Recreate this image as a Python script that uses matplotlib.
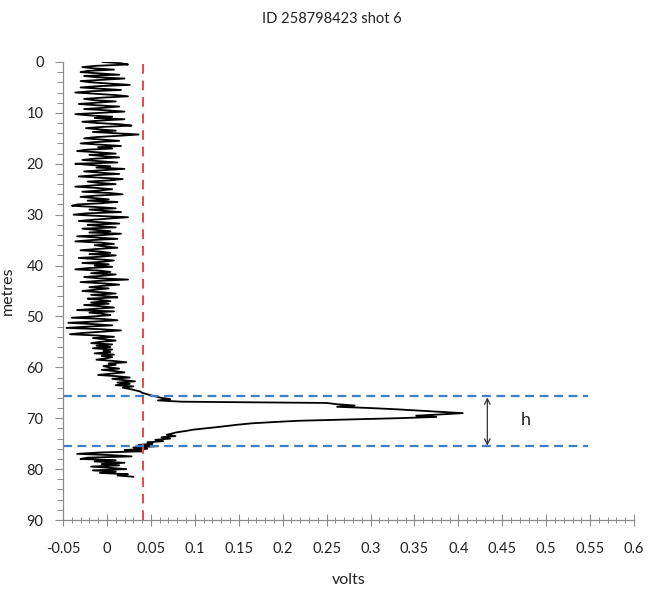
import numpy as np
import matplotlib
matplotlib.use('Agg')
import matplotlib.pyplot as plt
from matplotlib.ticker import MultipleLocator, FuncFormatter

plt.rcParams['font.family'] = ['Lato', 'DejaVu Sans']

# trace samples, volts, one every 0.25 m from the surface down
step = 0.25
volts = [
    # 0 - 5 m
    -0.005, 0.016, 0.024, -0.012, -0.028, -0.015, 0.008, -0.022, -0.030, -0.008,
    0.014, -0.026, -0.012, 0.020, -0.005, -0.030, -0.018, 0.004, 0.026, -0.010,
    # 5 - 10 m
    -0.030, -0.008, 0.016, -0.018, -0.036, -0.012, 0.010, 0.024, -0.005, -0.026,
    -0.015, 0.010, -0.012, -0.032, -0.012, 0.014, -0.004, -0.026, 0.000, 0.020,
    # 10 - 15 m
    -0.008, -0.036, -0.020, 0.006, -0.014, 0.020, -0.006, -0.028, -0.010, 0.016,
    0.028, -0.004, -0.024, -0.008, 0.010, -0.016, 0.010, 0.036, 0.014, -0.012,
    # 15 - 20 m
    -0.026, -0.005, 0.014, -0.014, -0.030, -0.006, 0.016, -0.010, 0.006, -0.024,
    -0.034, -0.010, 0.010, -0.020, -0.004, 0.014, -0.014, -0.028, -0.008, 0.012,
    # 20 - 25 m
    -0.036, -0.018, 0.004, -0.012, 0.020, -0.004, -0.026, -0.008, 0.014, -0.014,
    -0.032, -0.006, 0.018, 0.004, -0.022, -0.010, 0.010, -0.016, -0.036, -0.012,
    # 25 - 30 m
    0.006, -0.008, -0.028, 0.004, 0.018, -0.012, -0.030, -0.014, 0.002, -0.022,
    0.012, -0.006, -0.034, -0.040, -0.012, 0.010, -0.020, -0.004, 0.016, -0.024,
    # 30 - 35 m
    -0.038, -0.010, 0.024, 0.004, -0.016, -0.032, -0.006, 0.014, -0.022, -0.008,
    0.010, -0.028, -0.012, 0.004, -0.020, 0.016, -0.004, -0.034, -0.010, 0.012,
    # 35 - 40 m
    -0.018, -0.036, -0.006, 0.008, -0.014, -0.002, 0.012, -0.012, -0.030, -0.008,
    0.004, -0.020, 0.010, -0.006, -0.032, -0.012, 0.008, -0.004, -0.028, 0.002,
    # 40 - 45 m
    -0.014, 0.006, -0.022, -0.036, -0.008, 0.004, -0.018, 0.010, -0.004, -0.026,
    -0.010, 0.024, -0.008, -0.030, -0.004, 0.014, -0.006, -0.020, 0.002, -0.014,
    # 45 - 50 m
    -0.028, -0.006, 0.010, -0.018, -0.002, 0.012, -0.022, -0.008, 0.004, -0.018,
    0.002, -0.026, -0.006, 0.008, -0.014, -0.034, 0.008, -0.020, -0.004, 0.004,
    # 50 - 55 m
    -0.016, -0.040, -0.004, 0.012, -0.014, -0.044, -0.016, 0.006, -0.022, -0.046,
    -0.008, 0.016, -0.006, -0.028, -0.042, -0.010, 0.008, -0.016, -0.002, 0.010,
    # 55 - 60 m
    -0.008, -0.018, 0.006, -0.012, 0.004, -0.016, 0.006, -0.004, 0.004, -0.014,
    0.008, -0.006, 0.006, -0.002, -0.012, 0.008, 0.022, 0.002, 0.010, -0.004,
    # 60 - 65 m
    0.002, 0.014, -0.006, 0.010, 0.020, 0.004, -0.010, 0.012, 0.026, 0.006,
    0.018, 0.032, 0.012, 0.026, 0.010, 0.030, 0.018, 0.026, 0.032, 0.038,
    # 65 - 70 m (the echo)
    0.040, 0.045, 0.050, 0.056, 0.062, 0.072, 0.058, 0.085, 0.250, 0.262,
    0.282, 0.262, 0.300, 0.330, 0.355, 0.380, 0.405, 0.380, 0.352, 0.375,
    # 70 - 75 m
    0.330, 0.275, 0.218, 0.190, 0.165, 0.150, 0.138, 0.125, 0.112, 0.098,
    0.090, 0.080, 0.074, 0.068, 0.078, 0.062, 0.072, 0.055, 0.064, 0.046,
    # 75 - 81.5 m
    0.052, 0.036, 0.058, 0.030, 0.046, 0.020, 0.040, -0.010, -0.034, 0.005,
    0.028, -0.022, -0.030, 0.010, -0.014, 0.020, -0.006, 0.014, -0.018, 0.004,
    0.022, -0.016, 0.010, -0.008, 0.024, 0.012, 0.030,
]
depth = np.arange(len(volts)) * step

threshold = 0.041          # red dashed line
h_top, h_bottom = 65.6, 75.4   # blue dashed lines
h_x = 0.433

fig = plt.figure(figsize=(6.53, 5.92), dpi=100)
ax = fig.add_axes([0.0965, 0.1216, 0.8745, 0.7737])

ax.plot(volts, depth, color='black', lw=1.3)
ax.axvline(threshold, color='#e8474f', lw=1.4, dashes=(5, 3.5))
for yy in (h_top, h_bottom):
    ax.plot([-0.05, 0.548], [yy, yy], color='#3d7fc4', lw=1.6, dashes=(4, 2.5))

ax.annotate('', xy=(h_x, h_top + 0.3), xytext=(h_x, h_bottom),
            arrowprops=dict(arrowstyle='<->', color='#333333', lw=0.9,
                            shrinkA=0, shrinkB=0))
ax.text(0.477, 70.3, 'h', fontsize=13, ha='center', va='center', color='#222222')

ax.set_xlim(-0.05, 0.6)
ax.set_ylim(90, 0)
ax.xaxis.set_major_locator(MultipleLocator(0.05))
ax.xaxis.set_minor_locator(MultipleLocator(0.01))
ax.yaxis.set_major_locator(MultipleLocator(10))
ax.yaxis.set_minor_locator(MultipleLocator(2))
ax.xaxis.set_major_formatter(FuncFormatter(lambda v, p: '%g' % round(v, 2)))

for s in ('top', 'right'):
    ax.spines[s].set_visible(False)
for s in ('left', 'bottom'):
    ax.spines[s].set_color('#8c8c8c')
    ax.spines[s].set_linewidth(0.9)

ax.tick_params(axis='x', which='major', direction='inout', length=8, width=0.8,
               color='#8c8c8c', labelsize=10.5, pad=12, labelcolor='#222222')
ax.tick_params(axis='x', which='minor', direction='inout', length=5, width=0.7,
               color='#8c8c8c')
ax.tick_params(axis='y', which='major', direction='out', length=6, width=0.8,
               color='#8c8c8c', labelsize=10.5, pad=8, labelcolor='#222222')
ax.tick_params(axis='y', which='minor', direction='out', length=4, width=0.7,
               color='#8c8c8c')

ax.set_xlabel('volts', fontsize=11.5, labelpad=12, color='#222222')
ax.set_ylabel('metres', fontsize=11.5, labelpad=8, color='#222222')
fig.text(0.508, 0.968, 'ID 258798423 shot 6', ha='center', va='center',
         fontsize=10.5, color='#222222')

fig.savefig('out.png', dpi=100)
